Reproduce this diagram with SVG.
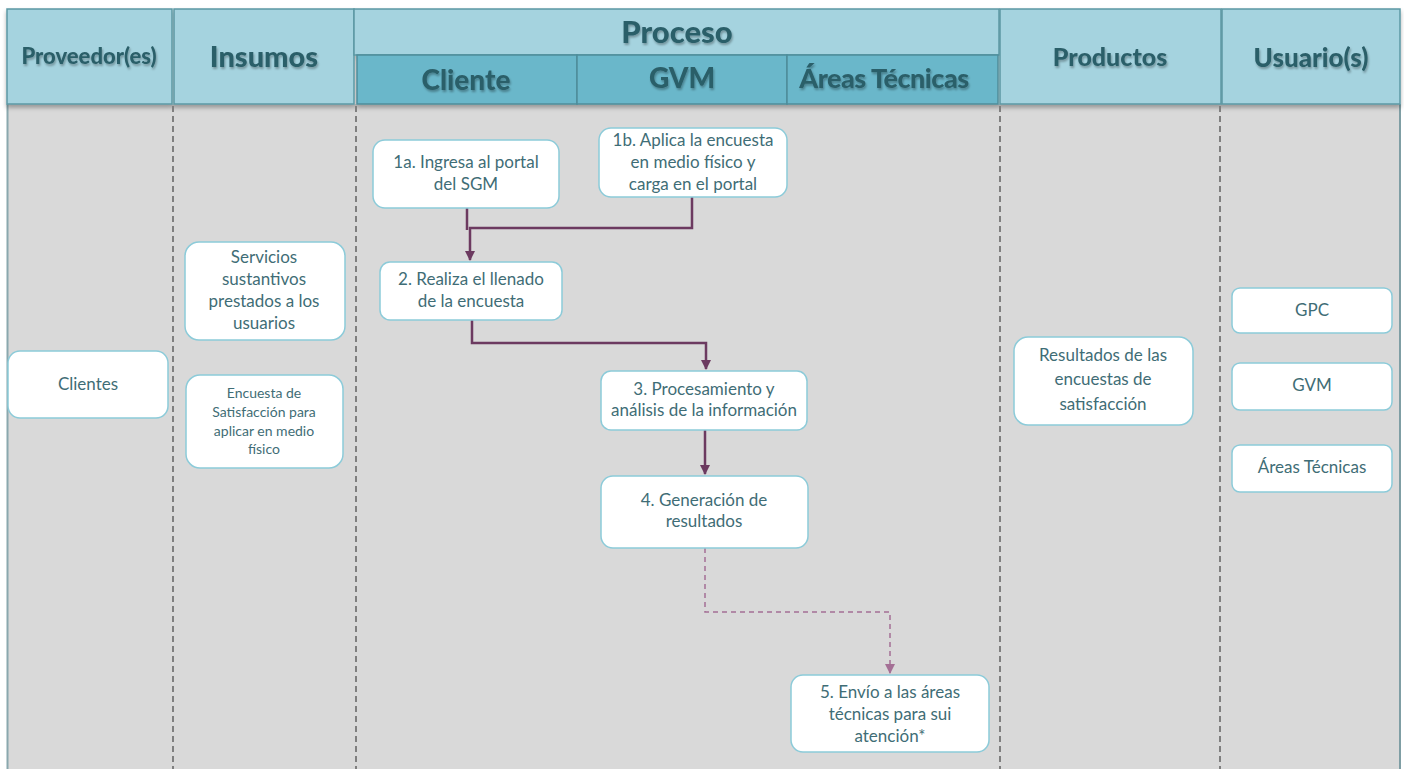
<svg xmlns="http://www.w3.org/2000/svg" width="1404" height="769" viewBox="0 0 1404 769">
<style>
.hdr{fill:#a5d3df;stroke:#5c98a4;stroke-width:1.5}
.sub{fill:#6bb7ca;stroke:#4d8d9a;stroke-width:1.5}
.ht{font-family:Lato,"Liberation Sans",sans-serif;font-weight:900;fill:#2c5f69;text-anchor:middle}
.sep{stroke:#7f7f7f;stroke-width:2;stroke-dasharray:6,4;fill:none}
.box{fill:#ffffff;stroke:#8ccbd9;stroke-width:1.5}
.t{font-family:Lato,"Liberation Sans",sans-serif;font-size:17px;fill:#3f6d76;text-anchor:middle}
.ts{font-family:Lato,"Liberation Sans",sans-serif;font-size:14px;fill:#3f6d76;text-anchor:middle}
.con{stroke:#6c3a60;stroke-width:2.5;fill:none}
.dcon{stroke:#a46f95;stroke-width:1.5;stroke-dasharray:5,4;fill:none}
</style>
<defs>
<filter id="sh" x="-5%" y="-5%" width="110%" height="130%">
<feDropShadow dx="0" dy="3" stdDeviation="2" flood-color="#000" flood-opacity="0.3"/>
</filter>
<filter id="tsh" x="-5%" y="-20%" width="110%" height="150%">
<feDropShadow dx="1" dy="2" stdDeviation="1" flood-color="#000" flood-opacity="0.3"/>
</filter>
<marker id="ah" viewBox="0 0 10 10" refX="9" refY="5" markerWidth="4" markerHeight="4" orient="auto" markerUnits="strokeWidth">
<path d="M0,0 L10,5 L0,10 z" fill="#6c3a60"/>
</marker>
<marker id="ahd" viewBox="0 0 10 10" refX="9" refY="5" markerWidth="7" markerHeight="7" orient="auto" markerUnits="strokeWidth">
<path d="M0,0 L10,5 L0,10 z" fill="#a46f95"/>
</marker>
</defs>
<rect x="0" y="0" width="1404" height="769" fill="#ffffff"/>
<rect x="7" y="104" width="1393" height="665" fill="#d9d9d9"/>
<line x1="7.5" y1="104" x2="7.5" y2="769" stroke="#8aa8ae" stroke-width="2"/>
<line x1="1400" y1="104" x2="1400" y2="769" stroke="#7f9ea4" stroke-width="2"/>

<g id="header" filter="url(#sh)">
<rect class="hdr" x="7" y="9" width="165" height="95"/>
<rect class="hdr" x="174" y="9" width="180" height="95"/>
<rect class="hdr" x="354" y="9" width="645" height="46"/>
<rect class="sub" x="357" y="55" width="220" height="49"/>
<rect class="sub" x="577" y="55" width="210" height="49"/>
<rect class="sub" x="787" y="55" width="211" height="49"/>
<rect class="hdr" x="1000" y="9" width="221" height="95"/>
<rect class="hdr" x="1222" y="9" width="178" height="95"/>
</g>
<g id="header-text" filter="url(#tsh)">
<text class="ht" x="89" y="64" font-size="22">Proveedor(es)</text>
<text class="ht" x="264" y="67" font-size="29">Insumos</text>
<text class="ht" x="677" y="43" font-size="31">Proceso</text>
<text class="ht" x="466" y="90" font-size="28">Cliente</text>
<text class="ht" x="682" y="88" font-size="28">GVM</text>
<text class="ht" x="884" y="88" font-size="27" letter-spacing="-0.5">Áreas Técnicas</text>
<text class="ht" x="1110" y="66" font-size="25">Productos</text>
<text class="ht" x="1311" y="67" font-size="26">Usuario(s)</text>
</g>

<g id="separators">
<line class="sep" x1="173" y1="106" x2="173" y2="769"/>
<line class="sep" x1="356" y1="106" x2="356" y2="769" stroke-width="2.5"/>
<line class="sep" x1="1000" y1="106" x2="1000" y2="769"/>
<line class="sep" x1="1220" y1="106" x2="1220" y2="769"/>
</g>

<g id="connectors">
<polyline class="con" points="467,208 467,230"/>
<polyline class="con" points="692,197 692,228 470,228 470,260" marker-end="url(#ah)"/>
<polyline class="con" points="472,320 472,343 706,343 706,369" marker-end="url(#ah)"/>
<polyline class="con" points="705,430 705,474" marker-end="url(#ah)"/>
<polyline class="dcon" points="705,548 705,612 890,612 890,673" marker-end="url(#ahd)"/>
</g>

<g id="clientes">
<rect class="box" x="8" y="351" width="160" height="67" rx="12"/>
<text class="t" x="88" y="390">Clientes</text>
</g>
<g id="servicios">
<rect class="box" x="185" y="242" width="160" height="98" rx="14"/>
<text class="t" x="264" y="263">Servicios</text>
<text class="t" x="264" y="285">sustantivos</text>
<text class="t" x="264" y="307">prestados a los</text>
<text class="t" x="264" y="329">usuarios</text>
</g>
<g id="encuesta">
<rect class="box" x="186" y="375" width="157" height="93" rx="14"/>
<text class="ts" x="264" y="398">Encuesta de</text>
<text class="ts" x="264" y="417">Satisfacción para</text>
<text class="ts" x="264" y="436">aplicar en  medio</text>
<text class="ts" x="264" y="454">físico</text>
</g>
<g id="n1a">
<rect class="box" x="373" y="140" width="186" height="68" rx="12"/>
<text class="t" x="466" y="168">1a. Ingresa al portal</text>
<text class="t" x="466" y="190">del SGM</text>
</g>
<g id="n1b">
<rect class="box" x="599" y="128" width="188" height="69" rx="12"/>
<text class="t" x="693" y="146">1b. Aplica la encuesta</text>
<text class="t" x="693" y="168">en medio físico y</text>
<text class="t" x="693" y="190">carga en el portal</text>
</g>
<g id="n2">
<rect class="box" x="380" y="262" width="182" height="58" rx="10"/>
<text class="t" x="471" y="285">2. Realiza el llenado</text>
<text class="t" x="471" y="307">de la encuesta</text>
</g>
<g id="n3">
<rect class="box" x="601" y="371" width="206" height="59" rx="10"/>
<text class="t" x="704" y="395">3. Procesamiento y</text>
<text class="t" x="704" y="416">análisis de la información</text>
</g>
<g id="n4">
<rect class="box" x="601" y="476" width="207" height="72" rx="12"/>
<text class="t" x="704" y="506">4. Generación de</text>
<text class="t" x="704" y="527">resultados</text>
</g>
<g id="n5">
<rect class="box" x="791" y="675" width="198" height="77" rx="12"/>
<text class="t" x="890" y="698">5. Envío a las áreas</text>
<text class="t" x="890" y="720">técnicas para sui</text>
<text class="t" x="890" y="742">atención*</text>
</g>
<g id="resultados">
<rect class="box" x="1014" y="337" width="179" height="88" rx="14"/>
<text class="t" x="1103" y="361">Resultados de las</text>
<text class="t" x="1103" y="385">encuestas de</text>
<text class="t" x="1103" y="410">satisfacción</text>
</g>
<g id="gpc">
<rect class="box" x="1232" y="288" width="160" height="45" rx="8"/>
<text class="t" x="1312" y="316">GPC</text>
</g>
<g id="gvm">
<rect class="box" x="1232" y="363" width="160" height="47" rx="8"/>
<text class="t" x="1312" y="391">GVM</text>
</g>
<g id="areas">
<rect class="box" x="1232" y="445" width="160" height="47" rx="8"/>
<text class="t" x="1312" y="473">Áreas Técnicas</text>
</g>
</svg>
